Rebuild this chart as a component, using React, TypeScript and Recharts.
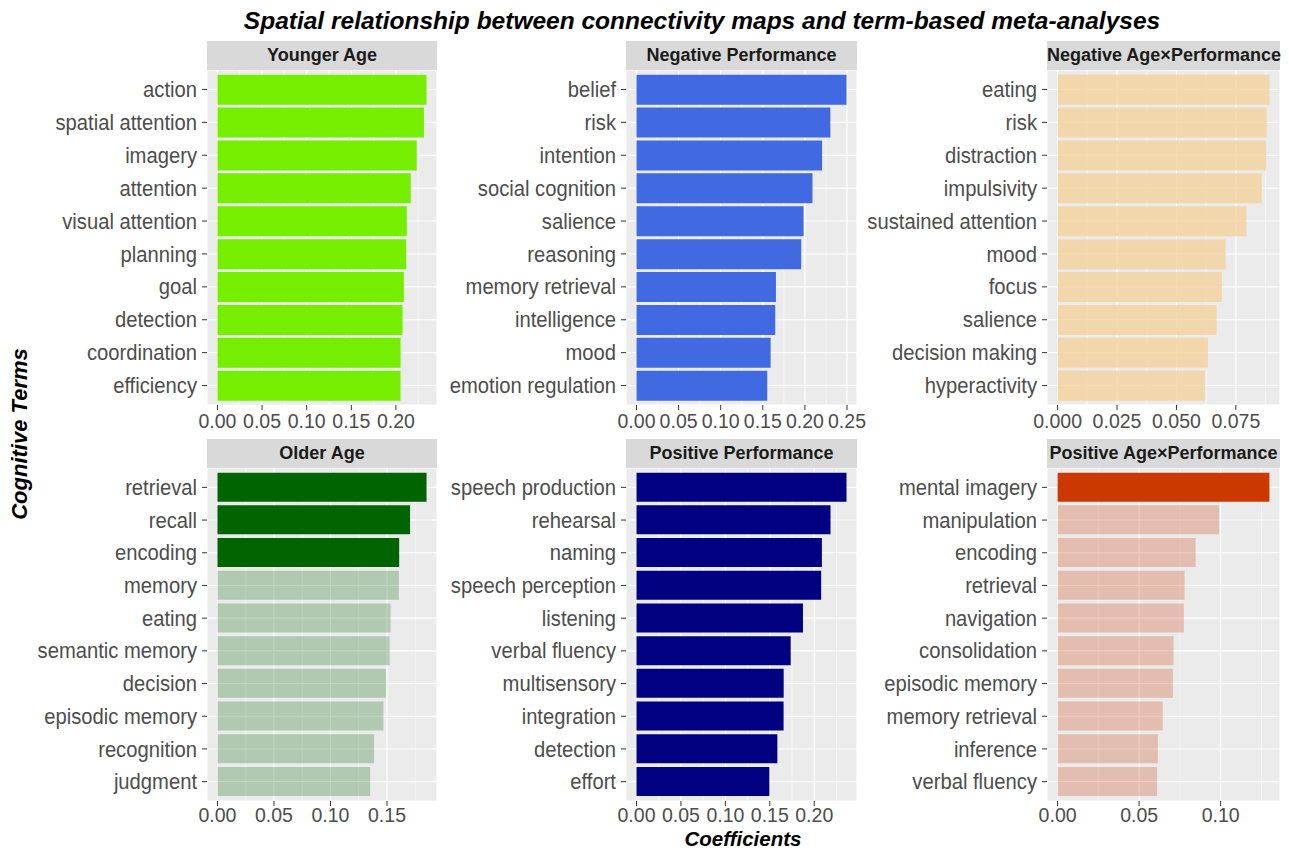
import React from "react";
import {
  BarChart, Bar, Cell, XAxis, YAxis, CartesianGrid,
} from "recharts";

// --- data -------------------------------------------------------------
const youngerTerms = [
  "action", "spatial attention", "imagery", "attention", "visual attention",
  "planning", "goal", "detection", "coordination", "efficiency",
];
const youngerValues = [0.2343, 0.2314, 0.2233, 0.2166, 0.2122, 0.2115, 0.2089, 0.2074, 0.2052, 0.2051];
const youngerTicks = [0, 0.05, 0.1, 0.15, 0.2];

const negPerfTerms = [
  "belief", "risk", "intention", "social cognition", "salience",
  "reasoning", "memory retrieval", "intelligence", "mood", "emotion regulation",
];
const negPerfValues = [0.2494, 0.2302, 0.2204, 0.209, 0.1984, 0.1956, 0.1656, 0.1648, 0.1593, 0.1553];
const negPerfTicks = [0, 0.05, 0.1, 0.15, 0.2, 0.25];

const negInterTerms = [
  "eating", "risk", "distraction", "impulsivity", "sustained attention",
  "mood", "focus", "salience", "decision making", "hyperactivity",
];
const negInterValues = [0.0891, 0.088, 0.0877, 0.0859, 0.0795, 0.0707, 0.0691, 0.0669, 0.0633, 0.062];
const negInterTicks = [0, 0.025, 0.05, 0.075];

const olderTerms = [
  "retrieval", "recall", "encoding", "memory", "eating",
  "semantic memory", "decision", "episodic memory", "recognition", "judgment",
];
const olderValues = [0.185, 0.1704, 0.1608, 0.1605, 0.1532, 0.1523, 0.1491, 0.1468, 0.1386, 0.1351];
const olderTicks = [0, 0.05, 0.1, 0.15];

const posPerfTerms = [
  "speech production", "rehearsal", "naming", "speech perception", "listening",
  "verbal fluency", "multisensory", "integration", "detection", "effort",
];
const posPerfValues = [0.2363, 0.2183, 0.2086, 0.2078, 0.1873, 0.1735, 0.1656, 0.1655, 0.1585, 0.1495];
const posPerfTicks = [0, 0.05, 0.1, 0.15, 0.2];

const posInterTerms = [
  "mental imagery", "manipulation", "encoding", "retrieval", "navigation",
  "consolidation", "episodic memory", "memory retrieval", "inference", "verbal fluency",
];
const posInterValues = [0.1299, 0.099, 0.0846, 0.0779, 0.0774, 0.0711, 0.0707, 0.0645, 0.0615, 0.061];
const posInterTicks = [0, 0.05, 0.1];

// --- layout -----------------------------------------------------------
const FONT = "'Liberation Sans', Arial, Helvetica, sans-serif";
const AXIS_W = 200;
const RIGHT_PAD = 24;
const STRIP_H = 29;
const TEXT_GREY = "#4D4D4D";

// axis text is a little narrower than the regular sans face
function TermTick(props: any) {
  const { x, y, payload } = props;
  return (
    <g transform={`translate(${x},${y})`}>
      <text
        transform="scale(0.94,1)"
        textAnchor="end"
        dy="0.355em"
        fontSize={21.5}
        fontFamily={FONT}
        fill={TEXT_GREY}
      >
        {payload.value}
      </text>
    </g>
  );
}

function makeValueTick(digits: number) {
  return function ValueTick(props: any) {
    const { x, y, payload } = props;
    return (
      <g transform={`translate(${x},${y})`}>
        <text
          transform="scale(0.93,1)"
          textAnchor="middle"
          dy="0.71em"
          fontSize={21}
          fontFamily={FONT}
          fill={TEXT_GREY}
        >
          {Number(payload.value).toFixed(digits)}
        </text>
      </g>
    );
  };
}

interface PanelProps {
  title: string;
  terms: string[];
  values: number[];
  ticks: number[];
  digits: number;
  color: string;
  highlight: number; // bars drawn at full opacity, the rest faded
  fadedOpacity: number;
  left: number;
  top: number;
  width: number;
  height: number;
  tickGap: number;
}

function Panel(p: PanelProps) {
  const data = p.terms.map((term, i) => ({ term, value: p.values[i] }));
  const max = Math.max(...p.values);
  const domain: [number, number] = [-0.05 * max, 1.05 * max];
  const step = p.ticks[1] - p.ticks[0];
  // minor breaks sit halfway between the major ones
  const minor = p.ticks
    .map((t) => t + step / 2)
    .filter((m) => m > domain[0] && m < domain[1]);

  const minorCoords = (props: any) => {
    const scale = props?.xAxis?.scale;
    if (typeof scale === "function") return minor.map((m) => scale(m));
    const off = props.offset;
    return minor.map(
      (m) => off.left + ((m - domain[0]) / (domain[1] - domain[0])) * off.width,
    );
  };

  const ValueTick = makeValueTick(p.digits);

  return (
    <div style={{ position: "absolute", left: p.left - AXIS_W, top: p.top - STRIP_H }}>
      <div
        style={{
          position: "absolute",
          left: AXIS_W,
          top: 0,
          width: p.width,
          height: STRIP_H,
          background: "#D9D9D9",
          color: "#1A1A1A",
          fontFamily: FONT,
          fontWeight: "bold",
          fontSize: 18,
          lineHeight: `${STRIP_H}px`,
          textAlign: "center",
          whiteSpace: "nowrap",
        }}
      >
        {p.title}
      </div>
      <div style={{ position: "absolute", left: 0, top: STRIP_H }}>
        <BarChart
          width={AXIS_W + p.width + RIGHT_PAD}
          height={p.height + 34}
          data={data}
          layout="vertical"
          margin={{ top: 0, right: RIGHT_PAD, bottom: 0, left: 0 }}
          barCategoryGap="5%"
        >
          <CartesianGrid fill="#EBEBEB" fillOpacity={1} stroke="#FFFFFF" strokeWidth={1.1} />
          <CartesianGrid
            horizontal={false}
            stroke="#FFFFFF"
            strokeWidth={0.5}
            verticalCoordinatesGenerator={minorCoords}
          />
          <XAxis
            type="number"
            domain={domain}
            allowDataOverflow
            ticks={p.ticks}
            interval={0}
            axisLine={false}
            tickLine={{ stroke: "#333333" }}
            tickSize={5}
            tickMargin={p.tickGap}
            height={34}
            tick={<ValueTick />}
          />
          <YAxis
            type="category"
            dataKey="term"
            width={AXIS_W}
            interval={0}
            padding={{ top: 3, bottom: 3 }}
            axisLine={false}
            tickLine={{ stroke: "#333333" }}
            tickSize={5}
            tickMargin={5}
            tick={<TermTick />}
          />
          <Bar dataKey="value" isAnimationActive={false}>
            {data.map((_, i) => (
              <Cell
                key={i}
                fill={p.color}
                fillOpacity={i < p.highlight ? 1 : p.fadedOpacity}
              />
            ))}
          </Bar>
        </BarChart>
      </div>
    </div>
  );
}

export default function App() {
  const row1 = { top: 70, height: 335, tickGap: 3 };
  const row2 = { top: 468, height: 333, tickGap: 1 };
  const cols = [
    { left: 207, width: 230 },
    { left: 626, width: 231 },
    { left: 1047, width: 233 },
  ];

  return (
    <div
      style={{
        position: "absolute",
        left: 0,
        top: 0,
        width: 1289,
        height: 850,
        background: "#FFFFFF",
        fontFamily: FONT,
        overflow: "hidden",
      }}
    >
      <div
        style={{
          position: "absolute",
          left: 702,
          top: 21,
          transform: "translate(-50%, -50%)",
          whiteSpace: "nowrap",
          fontWeight: "bold",
          fontStyle: "italic",
          fontSize: 24.5,
          color: "#000",
        }}
      >
        Spatial relationship between connectivity maps and term-based meta-analyses
      </div>

      <Panel title="Younger Age" terms={youngerTerms} values={youngerValues} ticks={youngerTicks}
        digits={2} color="#76EE00" highlight={10} fadedOpacity={1} {...cols[0]} {...row1} />
      <Panel title="Negative Performance" terms={negPerfTerms} values={negPerfValues} ticks={negPerfTicks}
        digits={2} color="#4169E1" highlight={10} fadedOpacity={1} {...cols[1]} {...row1} />
      <Panel title="Negative Age×Performance" terms={negInterTerms} values={negInterValues} ticks={negInterTicks}
        digits={3} color="#F3D4A1" highlight={0} fadedOpacity={0.85} {...cols[2]} {...row1} />
      <Panel title="Older Age" terms={olderTerms} values={olderValues} ticks={olderTicks}
        digits={2} color="#006400" highlight={3} fadedOpacity={0.25} {...cols[0]} {...row2} />
      <Panel title="Positive Performance" terms={posPerfTerms} values={posPerfValues} ticks={posPerfTicks}
        digits={2} color="#000080" highlight={10} fadedOpacity={1} {...cols[1]} {...row2} />
      <Panel title="Positive Age×Performance" terms={posInterTerms} values={posInterValues} ticks={posInterTicks}
        digits={2} color="#CD3700" highlight={1} fadedOpacity={0.25} {...cols[2]} {...row2} />

      <div
        style={{
          position: "absolute",
          left: 20,
          top: 434,
          transform: "translate(-50%, -50%) rotate(-90deg)",
          whiteSpace: "nowrap",
          fontWeight: "bold",
          fontStyle: "italic",
          fontSize: 22,
          color: "#000",
        }}
      >
        Cognitive Terms
      </div>
      <div
        style={{
          position: "absolute",
          left: 743,
          top: 827,
          lineHeight: "23px",
          transform: "translateX(-50%)",
          whiteSpace: "nowrap",
          fontWeight: "bold",
          fontStyle: "italic",
          fontSize: 20.5,
          color: "#000",
        }}
      >
        Coefficients
      </div>
    </div>
  );
}
